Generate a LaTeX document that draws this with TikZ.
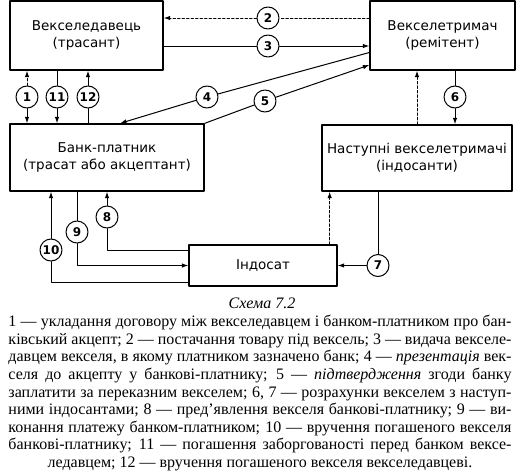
\documentclass[tikz,border=0pt]{standalone}
\usepackage{fontspec}
\setmainfont{Liberation Serif}
\newfontfamily\boxfont{DejaVu Sans}
\usetikzlibrary{arrows.meta}

\newcommand{\partyfont}{\boxfont\fontsize{13.5}{17}\selectfont}
\newcommand{\legendfont}{\fontsize{16}{17.6}\selectfont}

\begin{document}
\begin{tikzpicture}[
			x=1pt,
			y=-1pt,
			line cap=round,
			line join=round,
			party/.style={draw, line width=1.3pt, align=center, inner sep=0pt,
				font=\partyfont},
			num/.style={circle, draw, line width=1pt, minimum size=22pt, inner sep=0pt,
				font=\boxfont\bfseries\fontsize{12}{12}\selectfont},
			flow/.style={line width=1pt, -{Latex[length=6.5pt,width=4.5pt]}},
			back/.style={flow, dashed, dash pattern=on 2.5pt off 2pt}
			]
			
			\useasboundingbox (0,0) rectangle (521,471);
			
			% Parties
			\node[party, minimum width=153pt, minimum height=69pt] (drawer) at (86.5,35.5)
				{Векселедавець\\(трасант)};
			\node[party, minimum width=145pt, minimum height=69pt] (payee) at (442.5,35.5)
				{Векселетримач\\(ремітент)};
			\node[party, minimum width=194pt, minimum height=67pt] (bank) at (107,157.5)
				{Банк-платник\\(трасат або акцептант)};
			\node[party, minimum width=190pt, minimum height=66pt] (holders) at (417,158)
				{Наступні векселетримачі\\(індосанти)};
			\node[party, minimum width=148pt, minimum height=41pt] (endorsee) at (263,265.5)
				{Індосат};
			
			% Numbered steps
			\node[num] (s1) at (27,97) {1};
			\node[num] (s2) at (268,18) {2};
			\node[num] (s3) at (268,46) {3};
			\node[num] (s4) at (207,97) {4};
			\node[num] (s5) at (265,101) {5};
			\node[num] (s6) at (455,97) {6};
			\node[num] (s7) at (378,265.5) {7};
			\node[num] (s8) at (107,217) {8};
			\node[num] (s9) at (77,232) {9};
			\node[num] (s10) at (51,250) {10};
			\node[num] (s11) at (57,97) {11};
			\node[num] (s12) at (88,97) {12};
			
			% Top row
			\draw[back] (payee.west |- s2) -- (s2) -- (drawer.east |- s2);
			\draw[flow] (drawer.east |- s3) -- (s3) -- (payee.west |- s3);
			\draw[flow] ([yshift=-17pt]payee.west) -- (s4) -- ([xshift=13pt]bank.north);
			\draw[flow] (bank.north east) -- (s5) -- ([yshift=-29.5pt]payee.west);
			
			% Drawer and bank
			\draw[back] (s1) -- (drawer.south -| s1);
			\draw[flow] (s1) -- (bank.north -| s1);
			\draw[flow] (drawer.south -| s11) -- (s11) -- (bank.north -| s11);
			\draw[flow] (bank.north -| s12) -- (s12) -- (drawer.south -| s12);
			
			% Payee and endorsers
			\draw[flow] (payee.south -| s6) -- (s6) -- (holders.north -| s6);
			\draw[back] (holders.north) -- (payee.south -| holders.north);
			\draw[flow] (holders.south -| s7) -- (s7) -- (endorsee.east);
			\draw[back] ([xshift=-8pt]endorsee.north east) -- ([xshift=-8pt]endorsee.north east |- holders.south);
			
			% Bank and endorsee
			\draw[flow] ([yshift=15.5pt]endorsee.west) -| (s8) -- (bank.south -| s8);
			\draw[flow] (bank.south -| s9) -- (s9) |- (endorsee.west);
			\draw[flow] ([yshift=-16.5pt]endorsee.west) -| (s10) -- (bank.south -| s10);
			
			% Caption and legend
			\node (title) at (262,303) {\fontsize{16}{16}\selectfont\itshape Схема 7.2};
			\node[anchor=north, text width=503pt, align=justify, inner sep=0pt] (legend) at (260,315) {%
				\legendfont
				1 — укладання договору між векселедавцем і банком-платником про бан-\linebreak
				ківський акцепт; 2 — постачання товару під вексель; 3 — видача векселе-\linebreak
				давцем векселя, в якому платником зазначено банк; 4 — \textit{презентація} век-\linebreak
				селя до акцепту у банкові-платнику; 5 — \textit{підтвердження} згоди банку\linebreak
				заплатити за переказним векселем; 6, 7 — розрахунки векселем з наступ-\linebreak
				ними індосантами; 8 — пред'явлення векселя банкові-платнику; 9 — ви-\linebreak
				конання платежу банком-платником; 10 — вручення погашеного векселя\linebreak
				банкові-платнику; 11 — погашення заборгованості перед банком вексе-%
				\parfillskip=0pt\par
				\parfillskip=0pt plus 1fil
				\centering ледавцем; 12 — вручення погашеного векселя векселедавцеві.\par};
			
		\end{tikzpicture}
\end{document}
